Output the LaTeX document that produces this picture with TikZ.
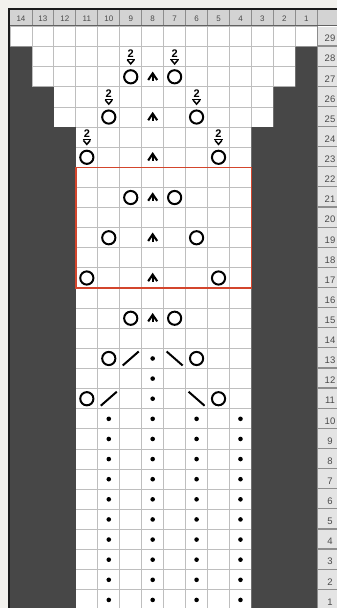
\documentclass[tikz,border=0pt]{standalone}
\usepackage{fontspec}
\setmainfont{Liberation Sans}
\definecolor{paper}{HTML}{F2F1ED}
\definecolor{framec}{HTML}{1C1C1C}
\definecolor{darkc}{HTML}{474747}
\definecolor{gridc}{HTML}{BEBEBE}
\definecolor{hdrc}{HTML}{D3D3D3}
\definecolor{hdrsep}{HTML}{8C8C8C}
\definecolor{rowc}{HTML}{E4E4E4}
\definecolor{rowline}{HTML}{8E8E8E}
\definecolor{redc}{HTML}{D3452C}
\definecolor{labc}{HTML}{4A4A4A}
\begin{document}
\begin{tikzpicture}[x=1pt,y=-1pt,
  sym/.style={line width=2pt, draw=black},
  yo/.pic={\draw[sym] (0,0) circle[radius=6.6];},
  cdd/.pic={\draw[line width=2.1pt, line join=miter] (-4.5,3.2) -- (0,-3.4) -- (4.5,3.2);
            \draw[line width=1.8pt] (0,-2.6) -- (0,3.8);},
  twoarr/.pic={\node[font=\bfseries\fontsize{11}{11}\selectfont, inner sep=0pt] (two) at (0,-3.4) {2};
            \draw[line width=1.2pt] (-4.2,2.6) -- (4.2,2.6);
            \draw[line width=1.5pt, line join=miter] (-3.4,3.2) -- (0,7.2) -- (3.4,3.2);},
  kdot/.pic={\fill[black] (0,0) circle[radius=2.3];},
  ls/.pic={\draw[sym] (-8,7) -- (8,-7);},
  rs/.pic={\draw[sym] (-8,-7) -- (8,7);},
  hdrlab/.style={font=\fontsize{8}{8}\selectfont, text=labc, inner sep=0pt},
  rowlab/.style={font=\fontsize{9.5}{9.5}\selectfont, text=labc, inner sep=0pt}
]
\useasboundingbox (0,0) rectangle (337,608);
\fill[paper] (0,0) rectangle (337,608);
% chart area
\fill[white] (10,10) rectangle (340,612);
% cell centres
\foreach \c in {1,...,14}{\foreach \r in {1,...,29}{
  \coordinate (c\c-\r) at ({10+(14.5-\c)*21.95},{26.5+(29.5-\r)*20.12});}}
% grid
\foreach \i in {0,...,14}{\draw[gridc, line width=0.9pt] ({10+\i*21.95},26) -- ({10+\i*21.95},612);}
\foreach \j in {0,...,29}{\draw[gridc, line width=0.9pt] (10,{26.5+\j*20.12}) -- (317.3,{26.5+\j*20.12});}
% dark side regions
\fill[darkc] (10,46.62) -- (31.95,46.62) -- (31.95,86.86) -- (53.9,86.86) -- (53.9,127.1)
  -- (75.85,127.1) -- (75.85,612) -- (10,612) -- cycle;
\fill[darkc] (317.3,46.62) -- (295.35,46.62) -- (295.35,86.86) -- (273.4,86.86) -- (273.4,127.1)
  -- (251.45,127.1) -- (251.45,612) -- (317.3,612) -- cycle;
% header
\fill[hdrc] (10,10) rectangle (340,25.5);
\foreach \i in {1,...,14}{\draw[hdrsep, line width=0.9pt] ({10+\i*21.95},10) -- ({10+\i*21.95},25.5);}
\draw[hdrsep!70!black, line width=1.1pt] (10,25.6) -- (340,25.6);
\foreach \c in {1,...,14}{\node[hdrlab] (h\c) at ({10+(14.5-\c)*21.95},18.5) {\c};}
% row number column
\foreach \r in {1,...,29}{
  \fill[rowc] (317.3,{26.5+(29-\r)*20.12}) rectangle (340,{26.5+(30-\r)*20.12});
  \draw[rowline, line width=1.2pt] (317.3,{26.5+(30-\r)*20.12-0.6}) -- (340,{26.5+(30-\r)*20.12-0.6});
  \node[rowlab] (n\r) at (330,{26.5+(29.5-\r)*20.12+2}) {\r};}
\draw[hdrsep, line width=0.9pt] (317.3,26) -- (317.3,612);
% frame
\draw[framec, line width=1.6pt] (9.2,612) -- (9.2,9.2) -- (340,9.2);
% red outline
\draw[redc, line width=1.9pt] (75.85,167.46) rectangle (251.45,288.18);
% stitches
\foreach \c/\r in {9/28,7/28,10/26,6/26,11/24,5/24}{\pic at (c\c-\r) {twoarr};}
\foreach \c/\r in {9/27,7/27,10/25,6/25,11/23,5/23,9/21,7/21,10/19,6/19,11/17,5/17,9/15,7/15,
  10/13,6/13,11/11,5/11}{\pic at (c\c-\r) {yo};}
\foreach \r in {27,25,23,21,19,17,15}{\pic at (c8-\r) {cdd};}
\pic at (c9-13) {ls};
\pic at (c7-13) {rs};
\pic at (c10-11) {ls};
\pic at (c6-11) {rs};
\foreach \c/\r in {8/13,8/12,8/11}{\pic at (c\c-\r) {kdot};}
\foreach \r in {1,...,10}{\foreach \c in {10,8,6,4}{\pic at (c\c-\r) {kdot};}}
\end{tikzpicture}
\end{document}
